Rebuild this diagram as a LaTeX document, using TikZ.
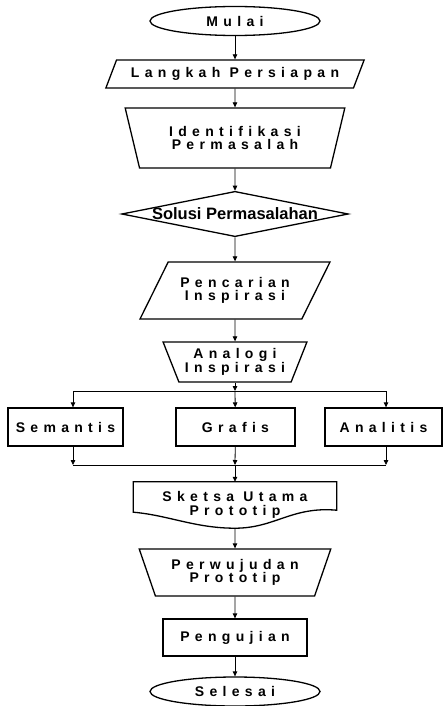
\documentclass[tikz,border=0pt]{standalone}
\usepackage{fontspec}
\usepackage{tikz}
\usetikzlibrary{arrows.meta,shapes.geometric,positioning}
\newfontfamily\flowfont[LetterSpace=38]{Liberation Sans}
\newfontfamily\solusifont{Liberation Sans}
\tikzset{
  shapeline/.style={draw,line width=1.3pt},
  flowtext/.style={font=\flowfont\bfseries\fontsize{14}{13.5}\selectfont,align=center,inner sep=0pt},
  terminal/.style={flowtext,shapeline,ellipse,minimum width=170pt,minimum height=29pt},
  inputbox/.style={flowtext,shapeline,trapezium,trapezium stretches=true},
  manualbox/.style={flowtext,shapeline,trapezium,trapezium stretches=true},
  prosesbox/.style={flowtext,shapeline,rectangle,minimum height=38pt},
  line/.style={line width=0.8pt},
  >={Triangle[length=5pt,width=4.5pt]}
}
\begin{document}
\begin{tikzpicture}[x=1pt,y=1pt]
\fill[white] (0,0) rectangle (443,-706);
\useasboundingbox (0,0) rectangle (443,-706);
%
% main column
\node[terminal] (mulai) at (235,-21) {Mulai};
\node[inputbox,trapezium left angle=54.5,trapezium right angle=125.5,
      minimum width=259pt,minimum height=28pt] (langkah) at (235,-74) {Langkah Persiapan};
\node[manualbox,trapezium left angle=112.6,trapezium right angle=112.6,
      minimum width=220pt,minimum height=60pt] (identifikasi) at (235,-138) {Identifikasi\\Permasalah};
\node[shapeline,diamond,aspect=5,inner sep=0pt,
      font=\solusifont\bfseries\fontsize{16.5}{16.5}\selectfont] (solusi) at (235,-214) {Solusi Permasalahan};
\node[inputbox,trapezium left angle=49,trapezium right angle=131,
      minimum width=190pt,minimum height=57pt] (pencarian) at (235,-290.5) {Pencarian\\Inspirasi};
\node[manualbox,trapezium left angle=118,trapezium right angle=118,
      minimum width=144pt,minimum height=40pt] (analogi) at (235,-362) {Analogi\\Inspirasi};
%
% three branches
\node[prosesbox,minimum width=115pt] (semantis) at (65.5,-427) {Semantis};
\node[prosesbox,minimum width=119pt] (grafis) at (235.5,-427) {Grafis};
\node[prosesbox,minimum width=117pt] (analitis) at (383.5,-427) {Analitis};
%
\node[flowtext,minimum width=203pt,minimum height=46pt] (sketsa) at (235,-505) {Sketsa Utama\\Prototip};
\draw[shapeline] (sketsa.north west) -- (sketsa.north east)
  -- ([yshift=18pt]sketsa.south east) .. controls +(-45,4) and +(40,0) .. (sketsa.south)
  .. controls +(-40,0) and +(35,-3) .. ([yshift=16pt]sketsa.south west) -- cycle;
\node[manualbox,trapezium left angle=116,trapezium right angle=116,
      minimum width=192pt,minimum height=47pt] (perwujudan) at (235,-572.5) {Perwujudan\\Prototip};
\node[prosesbox,minimum width=144pt,minimum height=37pt] (pengujian) at (235,-637.5) {Pengujian};
\node[terminal] (selesai) at (235,-691.5) {Selesai};
%
% split and join
\coordinate (split) at (235,-391);
\coordinate (splitl) at (73,-391);
\coordinate (splitr) at (386,-391);
\coordinate (join) at (235,-465);
\coordinate (joinl) at (73,-465);
\coordinate (joinr) at (386,-465);
%
\draw[line,->] (mulai) -- (langkah);
\draw[line,->] (langkah) -- (identifikasi);
\draw[line,->] (identifikasi) -- (solusi);
\draw[line,->] (solusi) -- (pencarian);
\draw[line,->] (pencarian) -- (analogi);
\draw[line,->] (analogi) -- (split);
\draw[line] (splitl) -- (splitr);
\draw[line,->] (splitl) -- (splitl |- semantis.north);
\draw[line,->] (split) -- (grafis);
\draw[line,->] (splitr) -- (splitr |- analitis.north);
\draw[line,->] (joinl |- semantis.south) -- (joinl);
\draw[line,->] (grafis) -- (join);
\draw[line,->] (joinr |- analitis.south) -- (joinr);
\draw[line] (joinl) -- (joinr);
\draw[line,->] (join) -- (sketsa);
\draw[line,->] (sketsa) -- (perwujudan);
\draw[line,->] (perwujudan) -- (pengujian);
\draw[line,->] (pengujian) -- (selesai);
\end{tikzpicture}
\end{document}
